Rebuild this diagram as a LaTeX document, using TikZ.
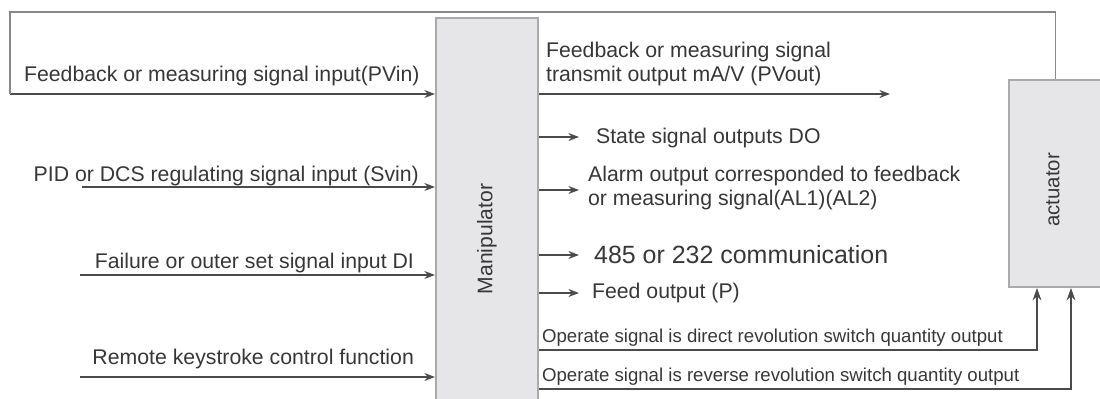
\documentclass[tikz,border=0pt]{standalone}
\usepackage{fontspec}
\setmainfont{Liberation Sans}
\usetikzlibrary{positioning,arrows.meta}
\definecolor{boxgray}{RGB}{230,230,232}
\definecolor{edgegray}{RGB}{170,170,170}
\definecolor{linegray}{RGB}{75,75,75}
\definecolor{textgray}{RGB}{55,55,55}
\tikzset{%
  block/.style={draw=edgegray, line width=1.2pt, fill=boxgray, inner sep=0pt},% grey boxes
  sig/.style={draw=linegray, line width=0.9pt, -{Stealth[length=6pt,width=4.5pt]}},% signal arrows
  loopline/.style={draw=edgegray!80!black, line width=0.7pt},% feedback loop
  oper/.style={draw=linegray, line width=1pt, -{Stealth[length=7pt,width=5pt]}},% switch outputs
  lbl/.style={text=textgray, font=\fontsize{12.1}{13.5}\selectfont, inner sep=1pt},
  small/.style={text=textgray, font=\fontsize{10.6}{12}\selectfont, inner sep=1pt}
}
\begin{document}
\begin{tikzpicture}[x=0.02cm, y=-0.02cm]
\useasboundingbox (0,0) rectangle (1100,399);
\clip (0,0) rectangle (1100,399);

% boxes
\node[block, minimum width=2.04cm, minimum height=8.84cm] (manip) at (487,239)
  {\rotatebox{90}{\color{textgray}\fontsize{12}{14}\selectfont Manipulator}};
\node[block, minimum width=1.86cm, minimum height=4.14cm] (act) at (1055.5,183.5) {};
\node[text=textgray, font=\fontsize{11.6}{13}\selectfont, rotate=90] (acttext) at (1053,190) {actuator};

% inputs
\coordinate (pvin) at (10,94);
\coordinate (svin) at (82,187);
\coordinate (di) at (80,275);
\coordinate (remote) at (80,377);
\draw[sig] (pvin) -- (pvin -| manip.west);
\draw[sig] (svin) -- (svin -| manip.west);
\draw[sig] (di) -- (di -| manip.west);
\draw[sig] (remote) -- (remote -| manip.west);
\node[lbl, anchor=base west] (pvinlbl) at (22,81) {Feedback or measuring signal input(PVin)};
\node[lbl, anchor=base east] (svinlbl) at (421,181) {PID or DCS regulating signal input (Svin)};
\node[lbl, anchor=base east] (dilbl) at (416,268) {Failure or outer set signal input DI};
\node[lbl, anchor=base east] (remotelbl) at (416,364) {Remote keystroke control function};

% feedback loop
\coordinate (ret) at (1055.5,12);
\draw[loopline] (act.north) -- (ret) -| (pvin);

% outputs
\coordinate (pvout) at (890,94);
\coordinate (do) at (579,137);
\coordinate (alarm) at (579,190);
\coordinate (comm) at (579,255);
\coordinate (feed) at (579,293);
\draw[sig] (pvout -| manip.east) -- (pvout);
\draw[sig] (do -| manip.east) -- (do);
\draw[sig] (alarm -| manip.east) -- (alarm);
\draw[sig] (comm -| manip.east) -- (comm);
\draw[sig] (feed -| manip.east) -- (feed);
\node[lbl, anchor=south west, align=left] (pvoutlbl) at (544,88)
  {Feedback or measuring signal\\transmit output mA/V (PVout)};
\node[lbl, anchor=west] (dolbl) at (594,138) {State signal outputs DO};
\node[lbl, anchor=west, align=left] (alarmlbl) at (586,188)
  {Alarm output corresponded to feedback\\or measuring signal(AL1)(AL2)};
\node[text=textgray, font=\fontsize{14.2}{16}\selectfont, anchor=west] (commlbl) at (588,255) {485 or 232 communication};
\node[lbl, anchor=west] (feedlbl) at (590,293) {Feed output (P)};

% switch quantity outputs
\coordinate (fwd) at (1037,350);
\coordinate (rev) at (1071,389);
\draw[oper] (fwd -| manip.east) -- (fwd) -- (fwd |- act.south);
\draw[oper] (rev -| manip.east) -- (rev) -- (rev |- act.south);
\node[small, anchor=base west] (fwdlbl) at (540,342) {Operate signal is direct revolution switch quantity output};
\node[small, anchor=base west] (revlbl) at (540,381) {Operate signal is reverse revolution switch quantity output};
\end{tikzpicture}
\end{document}
